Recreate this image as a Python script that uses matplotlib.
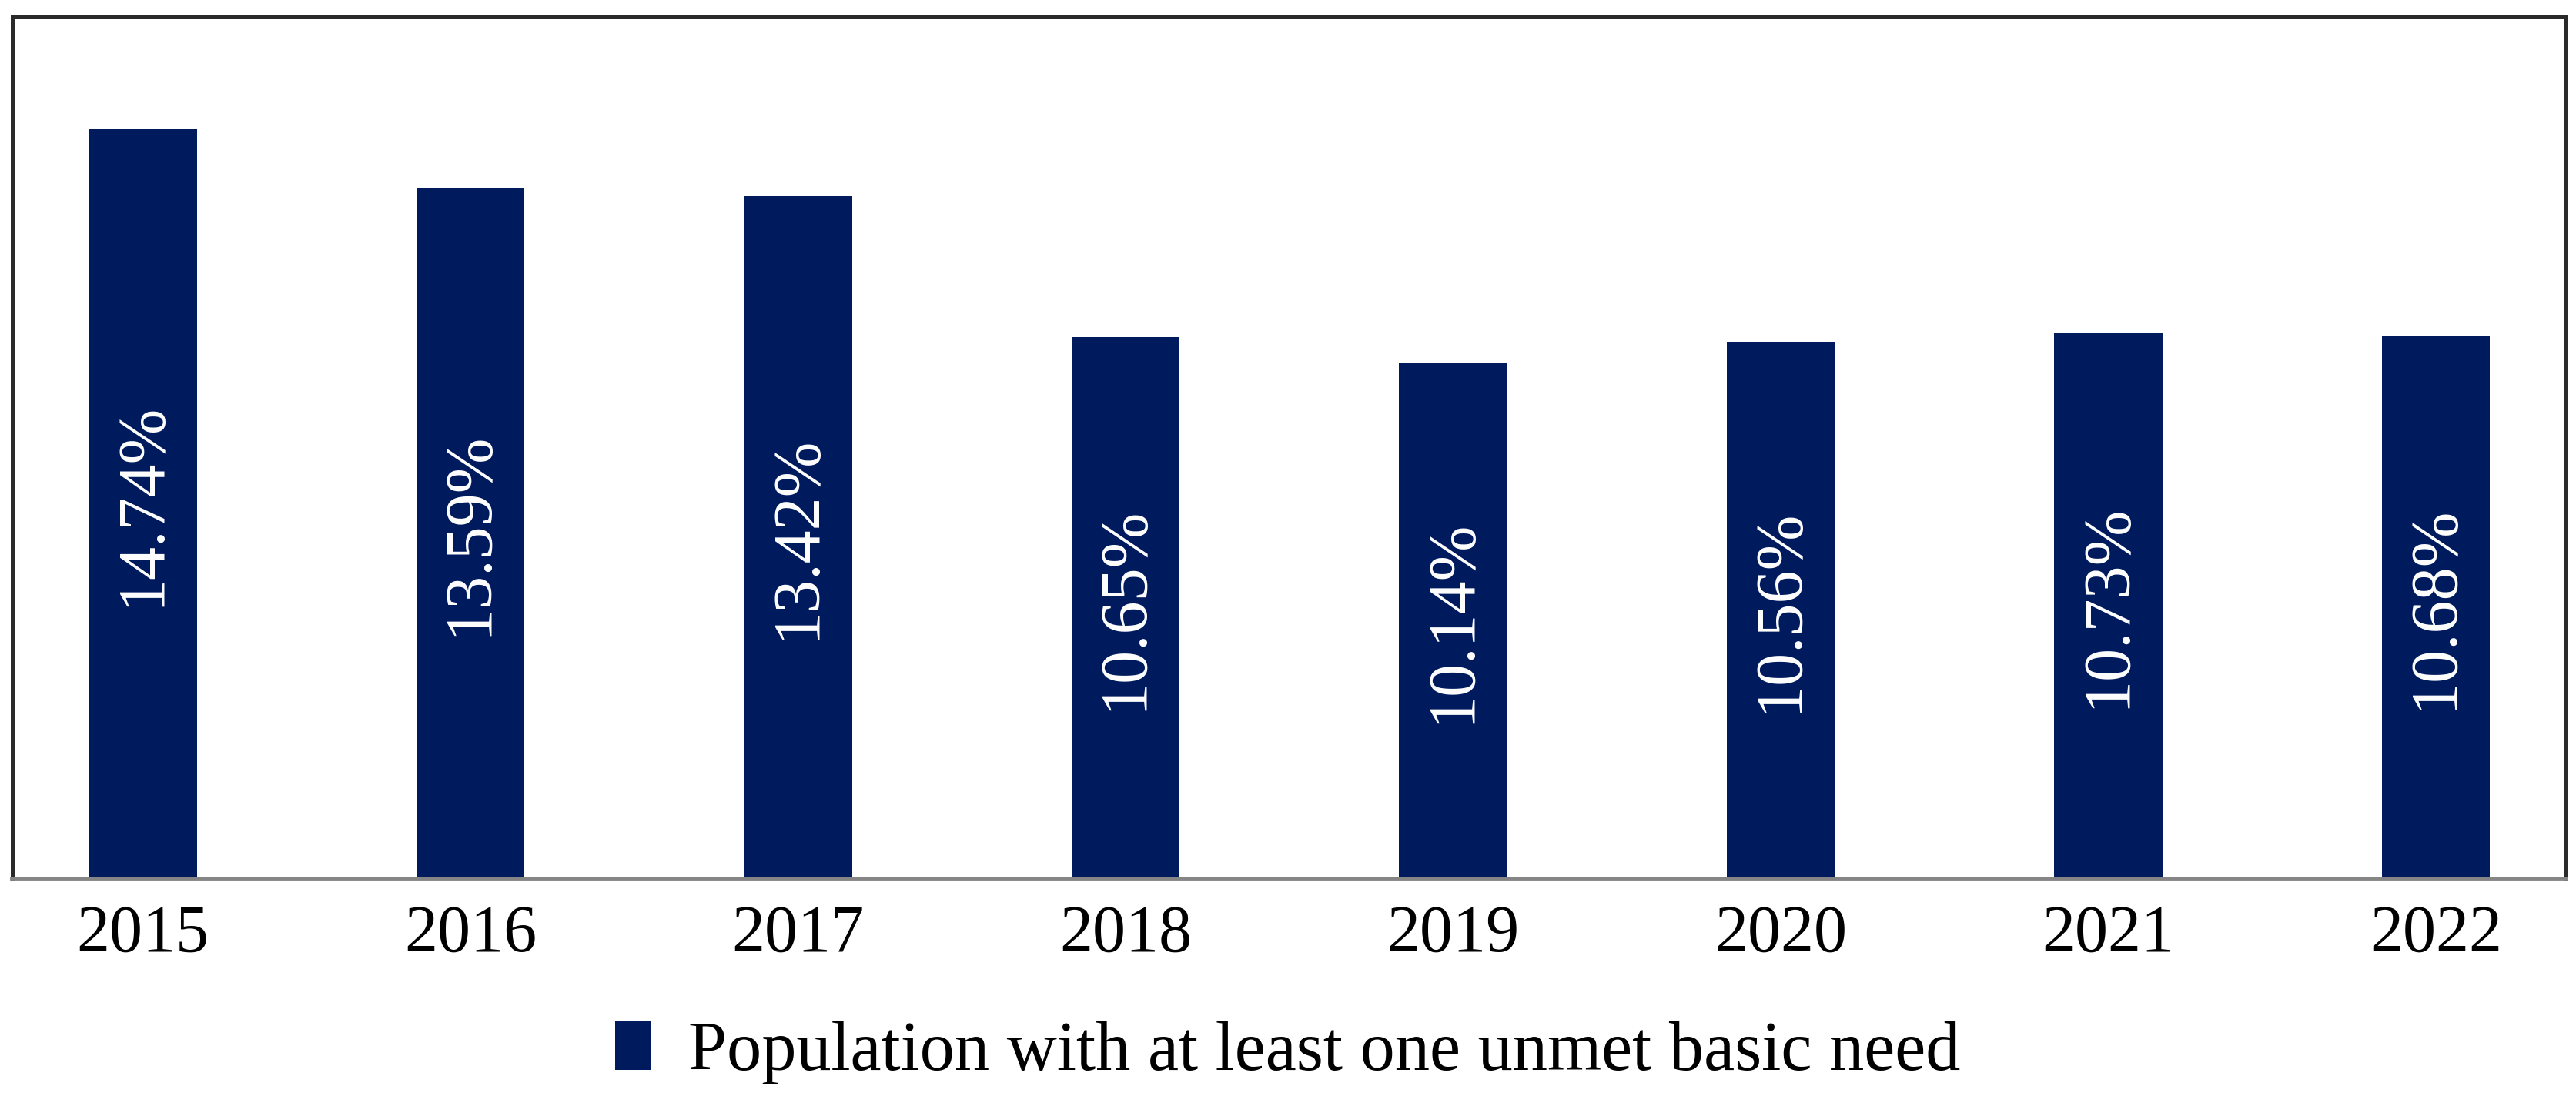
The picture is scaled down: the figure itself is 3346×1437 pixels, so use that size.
import matplotlib
matplotlib.use('Agg')
import matplotlib.pyplot as plt
from matplotlib.patches import Patch

years = ['2015', '2016', '2017', '2018', '2019', '2020', '2021', '2022']
values = [14.74, 13.59, 13.42, 10.65, 10.14, 10.56, 10.73, 10.68]
labels = ['14.74%', '13.59%', '13.42%', '10.65%', '10.14%', '10.56%', '10.73%', '10.68%']
series_name = 'Population with at least one unmet basic need'

bar_color = '#001a5e'
plt.rcParams['font.family'] = ['Liberation Serif', 'DejaVu Serif']

fig = plt.figure(figsize=(33.46, 14.37), dpi=100)
ax = fig.add_axes([0.0048, 0.2053, 0.9914, 0.7794])

x = range(len(years))
bars = ax.bar(x, values, width=0.33, color=bar_color)

# value labels, rotated, centred inside each bar
for i in x:
    ax.text(i, values[i] / 2, labels[i], rotation=90, ha='center', va='center',
            color='white', fontsize=62)

ax.set_xlim(-0.398, 7.398)
ax.set_ylim(0, 16.95)
ax.set_xticks(list(x))
ax.set_xticklabels(years, fontsize=62)
ax.tick_params(axis='x', length=0, pad=24)
ax.set_yticks([])

for side in ['top', 'left', 'right']:
    ax.spines[side].set_color('#2a2a2a')
    ax.spines[side].set_linewidth(3.6)
ax.spines['bottom'].set_color('#858585')
ax.spines['bottom'].set_linewidth(4.2)

handle = Patch(facecolor=bar_color, edgecolor='none')
fig.legend([handle], [series_name], loc='center', bbox_to_anchor=(0.5, 0.048),
           frameon=False, fontsize=65, handlelength=0.52, handleheight=0.69,
           handletextpad=0.53)

fig.savefig('out.png', dpi=100)
